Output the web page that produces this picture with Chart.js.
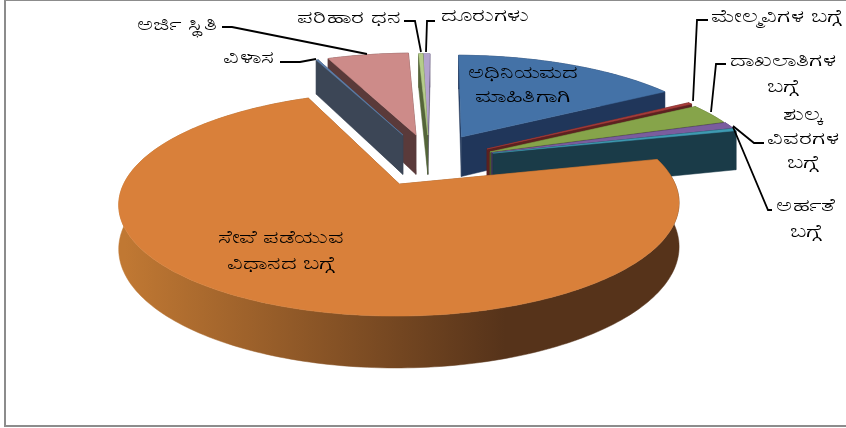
<!DOCTYPE html>
<html>
<head>
<meta charset="utf-8">
<style>
  html, body { margin: 0; padding: 0; background: #fff; }
  canvas { display: block; }
</style>
<script src="https://cdn.jsdelivr.net/npm/chart.js@4"></script>
</head>
<body>
<canvas id="myChart" width="846" height="428"></canvas>
<script>
// slices, clockwise from the top (percent)
const categories = ['ಅಧಿನಿಯಮದ ಮಾಹಿತಿಗಾಗಿ', 'ಮೇಲ್ಮವಿಗಳ ಬಗ್ಗೆ', 'ದಾಖಲಾತಿಗಳ ಬಗ್ಗೆ', 'ಶುಲ್ಕ ವಿವರಗಳ ಬಗ್ಗೆ', 'ಅರ್ಹತೆ ಬಗ್ಗೆ',
    'ಸೇವೆ ಪಡೆಯುವ ವಿಧಾನದ ಬಗ್ಗೆ', 'ವಿಳಾಸ', 'ಅರ್ಜಿ ಸ್ಥಿತಿ', 'ಪರಿಹಾರ ಧನ', 'ದೂರುಗಳು'];
const values = [16.1, 0.3, 3.1, 1.0, 0.4, 72.3, 0.15, 5.75, 0.3, 0.5];

const topColors = ['#4472A7', '#A63D3A', '#86A44A', '#7A5D9E', '#3E9AB2', '#D9803A', '#5F80AD', '#CD8B89', '#B5CC8A', '#B3A3CE'];
const wallColors = ['#20365A', '#5C2120', '#4A5C28', '#43335C', '#1A3B48', '#8A5226', '#3C4656', '#5A3A3A', '#55653A', '#5D5470'];

// how far each slice is pulled out of the pie, and its size, in pie radii
const pullX = [0.18, 0.274, 0.284, 0.29, 0.295, -0.056, -0.047, 0.004, 0.05, 0.05];
const pullY = [0.364, 0.239, 0.209, 0.2, 0.197, -0.1, 0.385, 0.385, 0.385, 0.385];
const sliceSize = [1.02, 1, 1, 1, 0.995, 0.99, 1.01, 1.03, 1.02, 1.02];
const drawOrder = [9, 8, 7, 6, 0, 1, 2, 3, 4, 5];

// label lines and where they sit
const labelLines = [
    ['ಅಧಿನಿಯಮದ', 'ಮಾಹಿತಿಗಾಗಿ'], ['ಮೇಲ್ಮವಿಗಳ ಬಗ್ಗೆ'], ['ದಾಖಲಾತಿಗಳ', 'ಬಗ್ಗೆ'], ['ಶುಲ್ಕ', 'ವಿವರಗಳ', 'ಬಗ್ಗೆ'], ['ಅರ್ಹತೆ', 'ಬಗ್ಗೆ'],
    ['ಸೇವೆ ಪಡೆಯುವ', 'ವಿಧಾನದ ಬಗ್ಗೆ'], ['ವಿಳಾಸ'], ['ಅರ್ಜಿ ಸ್ಥಿತಿ'], ['ಪರಿಹಾರ ಧನ'], ['ದೂರುಗಳು']
];
const labelX = [523, 777, 783, 803, 806, 281, 249, 177, 349, 485];
const labelY = [73, 17, 61, 115, 206, 238, 58, 25, 18, 16];
const lineGap = [24, 0, 26, 24, 26, 26, 0, 0, 0, 0];
const leaders = [
    null,
    [[708, 20], [697, 20], [693, 101]],
    [[726, 64], [716, 64], [711, 112]],
    [[764, 143], [754, 143], [733, 126]],
    [[772, 210], [768, 210], [733, 127]],
    null,
    [[280, 62], [300, 62], [316, 59]],
    [[222, 27], [232, 27], [367, 54]],
    [[404, 21], [415, 21], [421, 52]],
    [[435, 21], [427, 21], [426, 52]]
];

// tilted view of the pie plane
const VIEW = { ox: 415, oy: 173.3, R: 273.7, S: 106, p: 0.175, D: 42 };

function project(a, b, down) {
    const w = 1 + VIEW.p * b;
    return {
        x: VIEW.ox + VIEW.R * a / w,
        y: VIEW.oy - VIEW.S * b / w + (down ? VIEW.D / w : 0)
    };
}

function rimPoints(arc, i, down) {
    const start = arc.startAngle + Math.PI / 2;
    const end = arc.endAngle + Math.PI / 2;
    const steps = Math.max(2, Math.ceil((end - start) / 0.02));
    const pts = [];
    for (let s = 0; s <= steps; s++) {
        const t = start + (end - start) * s / steps;
        pts.push(project(pullX[i] + sliceSize[i] * Math.sin(t), pullY[i] + sliceSize[i] * Math.cos(t), down));
    }
    return pts;
}

function fillPath(ctx, pts, color) {
    ctx.beginPath();
    pts.forEach((pt, n) => n ? ctx.lineTo(pt.x, pt.y) : ctx.moveTo(pt.x, pt.y));
    ctx.closePath();
    ctx.fillStyle = color;
    ctx.strokeStyle = color;
    ctx.lineWidth = 0.5;
    ctx.fill();
    ctx.stroke();
}

function drawSlice(ctx, arc, i) {
    const apexTop = project(pullX[i], pullY[i], false);
    const apexLow = project(pullX[i], pullY[i], true);
    const top = rimPoints(arc, i, false);
    const low = rimPoints(arc, i, true);

    // the two cut faces
    fillPath(ctx, [apexTop, top[0], low[0], apexLow], wallColors[i]);
    fillPath(ctx, [apexTop, top[top.length - 1], low[low.length - 1], apexLow], wallColors[i]);

    // outer wall, lit from the left on the big slice
    let wall = wallColors[i];
    if (i === 5) {
        wall = ctx.createLinearGradient(125, 0, 505, 0);
        wall.addColorStop(0, '#C07833');
        wall.addColorStop(1, '#56331A');
    }
    fillPath(ctx, top.concat(low.slice().reverse()), wall);

    fillPath(ctx, [apexTop].concat(top), topColors[i]);
}

const pie3d = {
    id: 'pie3d',
    // the library works out the slice angles, they are drawn here in the tilted view
    beforeDatasetDraw(chart) {
        const ctx = chart.ctx;
        const arcs = chart.getDatasetMeta(0).data;
        ctx.save();
        drawOrder.forEach(i => drawSlice(ctx, arcs[i], i));
        ctx.restore();
        return false;
    },
    afterDraw(chart) {
        const ctx = chart.ctx;
        ctx.save();
        // frame
        ctx.strokeStyle = '#8C8C8C';
        ctx.lineWidth = 2;
        ctx.strokeRect(5, 0, 848, 426);

        ctx.strokeStyle = '#000';
        ctx.lineWidth = 1.8;
        leaders.forEach(line => {
            if (!line) return;
            ctx.beginPath();
            line.forEach((pt, n) => n ? ctx.lineTo(pt[0], pt[1]) : ctx.moveTo(pt[0], pt[1]));
            ctx.stroke();
        });

        // the labels are wide in the original, so stretch them sideways
        ctx.fillStyle = '#000';
        ctx.font = '18px "Noto Sans", "DejaVu Sans", sans-serif';
        ctx.textAlign = 'center';
        ctx.textBaseline = 'middle';
        labelLines.forEach((lines, i) => {
            lines.forEach((text, n) => {
                ctx.save();
                ctx.translate(labelX[i], labelY[i] + n * lineGap[i]);
                ctx.scale(1.35, 1);
                ctx.fillText(text, 0, 0);
                ctx.restore();
            });
        });
        ctx.restore();
    }
};

new Chart(document.getElementById('myChart'), {
    type: 'pie',
    data: {
        labels: categories,
        datasets: [{ data: values, backgroundColor: topColors, borderWidth: 0 }]
    },
    options: {
        responsive: false,
        animation: false,
        devicePixelRatio: 1,
        rotation: 1,
        plugins: { legend: { display: false }, tooltip: { enabled: false } }
    },
    plugins: [pie3d]
});
</script>
</body>
</html>
